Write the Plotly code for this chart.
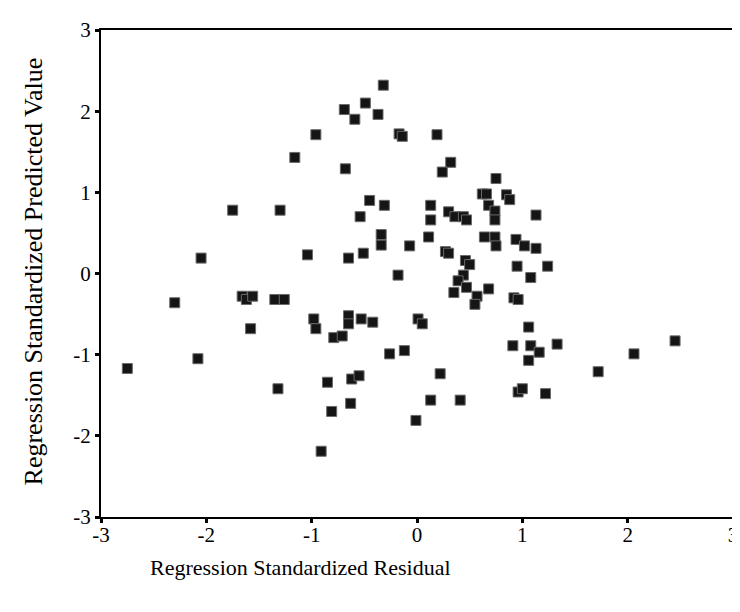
import plotly.graph_objects as go

# Regression Standardized Residual (x) and Predicted Value (y)
residual = [
    -0.32, -0.49, -0.69, -0.59, -0.37, -0.17, -0.14, -0.96, -1.16, -0.68,
    -0.45, -0.31, -0.54, -1.75, -1.30, -0.34, -0.34, -0.07, -2.05, -1.04,
    -0.65, -0.51, -0.18,
    0.19, 0.32, 0.24, 0.75, 0.62, 0.66, 0.85, 0.88, 0.13, 0.68,
    0.74, 0.30, 0.36, 0.44, 0.47, 0.74, 1.13, 0.13, 0.11, 0.64,
    0.74, 0.75, 0.94, 1.02, 1.13, 0.27, 0.30, 0.46, 0.50, 0.95,
    1.24, 1.08, 0.44, 0.39, 0.35, 0.47, 0.57, 0.55, 0.68, 0.92,
    0.96, 0.01, 0.05, 1.06, 0.91, 1.08, 1.16, 1.33, 1.06, 2.45,
    2.06, 1.72, 0.96, 1.00, 1.22, 0.22, 0.13, 0.41, -0.01,
    -2.30, -1.66, -1.62, -1.56, -1.35, -1.26, -1.58, -0.98, -0.96, -0.65,
    -0.65, -0.53, -0.42, -0.79, -0.71, -0.26, -0.12, -2.75, -2.08, -0.62,
    -0.55, -0.85, -1.32, -0.63, -0.81, -0.91,
]
predicted = [
    2.32, 2.10, 2.02, 1.90, 1.96, 1.72, 1.69, 1.71, 1.43, 1.29,
    0.90, 0.84, 0.70, 0.78, 0.78, 0.48, 0.35, 0.34, 0.19, 0.23,
    0.19, 0.25, -0.02,
    1.71, 1.37, 1.25, 1.17, 0.98, 0.98, 0.97, 0.91, 0.84, 0.84,
    0.77, 0.76, 0.70, 0.70, 0.66, 0.66, 0.72, 0.66, 0.45, 0.45,
    0.45, 0.34, 0.42, 0.34, 0.31, 0.27, 0.25, 0.16, 0.11, 0.09,
    0.09, -0.05, -0.02, -0.09, -0.235, -0.17, -0.28, -0.38, -0.19, -0.30,
    -0.32, -0.56, -0.62, -0.66, -0.89, -0.89, -0.97, -0.87, -1.07, -0.83,
    -0.99, -1.21, -1.46, -1.42, -1.48, -1.235, -1.56, -1.56, -1.81,
    -0.36, -0.28, -0.32, -0.28, -0.32, -0.32, -0.68, -0.56, -0.68, -0.52,
    -0.62, -0.56, -0.60, -0.79, -0.77, -0.99, -0.95, -1.17, -1.05, -1.30,
    -1.26, -1.34, -1.42, -1.60, -1.70, -2.19,
]
tick_vals = [-3, -2, -1, 0, 1, 2, 3]
tick_text = ["-3", "-2", "-1", "0", "1", "2", "3"]

fig = go.Figure()
fig.add_trace(go.Scatter(
    x=residual, y=predicted, mode="markers",
    marker=dict(symbol="square", size=10, color="#151515",
                line=dict(color="#6a6a6a", width=1)),
    showlegend=False, hoverinfo="x+y",
))

font = "Liberation Serif, Times New Roman, serif"
axis_common = dict(
    tickmode="array", tickvals=tick_vals, ticktext=tick_text,
    showgrid=False, zeroline=False,
    showline=True, linecolor="black", linewidth=2, mirror=True,
    ticks="outside", ticklen=4, tickwidth=3, tickcolor="black",
    tickfont=dict(family=font, size=21, color="black"),
    ticklabeloverflow="allow",
)
fig.update_xaxes(range=[-3, 3], ticklabelstandoff=-6, **axis_common)
fig.update_yaxes(range=[-3, 3], **axis_common)

fig.update_layout(
    width=740, height=612,
    margin=dict(l=93, r=10, t=19, b=103),
    plot_bgcolor="white", paper_bgcolor="white",
    font=dict(family=font, color="black"),
    annotations=[
        dict(text="Regression Standardized Residual", xref="paper", yref="paper",
             x=0.074, y=-0.104, xanchor="left", yanchor="middle", showarrow=False,
             font=dict(family=font, size=22, color="black")),
        dict(text="Regression Standardized Predicted Value", xref="paper", yref="paper",
             x=-0.107, y=0.505, xanchor="center", yanchor="middle", showarrow=False,
             textangle=-90, font=dict(family=font, size=26, color="black")),
    ],
)

fig.write_html("out.html")
